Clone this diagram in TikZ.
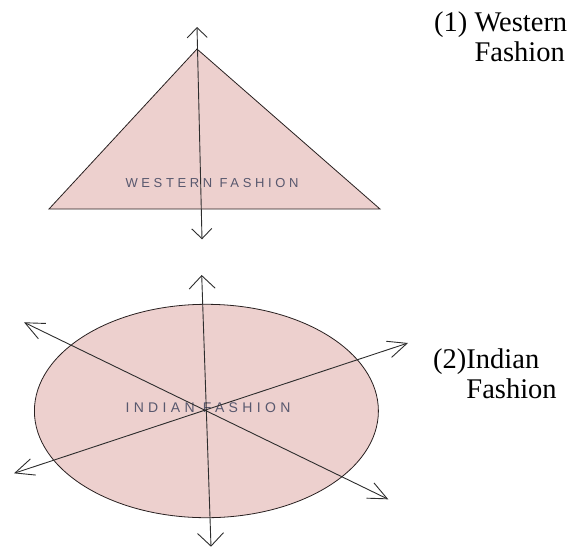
\documentclass[tikz,border=0pt]{standalone}
\usepackage{fontspec}
\setmainfont{Liberation Serif}
\newfontfamily\labelserif{Liberation Serif}
\newfontfamily\spacedsans[LetterSpace=28]{Liberation Sans}
\newfontfamily\widesans[LetterSpace=31]{Liberation Sans}
\usetikzlibrary{arrows.meta,shapes.geometric}
\definecolor{shapefill}{RGB}{237,208,206}
\definecolor{shapeline}{RGB}{40,32,32}
\definecolor{arrowline}{RGB}{45,45,45}
\definecolor{inlabel}{RGB}{88,88,110}
\tikzset{
  shapebody/.style={fill=shapefill, draw=shapeline, line width=0.8pt},
  axis/.style={draw=arrowline, line width=0.9pt},
  inner label/.style={font=\spacedsans\fontsize{13}{15}\selectfont, text=inlabel, inner sep=0pt},
  wide label/.style={font=\widesans\fontsize{14}{16}\selectfont, text=inlabel, inner sep=0pt},
  side label/.style={font=\labelserif\fontsize{28.5}{29.5}\selectfont, align=left, inner sep=0pt},
  headA/.style={{Straight Barb[length=10pt 0 0, width=20pt 0 0]}-{Straight Barb[length=10pt 0 0, width=20pt 0 0]}},
  headB/.style={{Straight Barb[length=13pt 0 0, width=26pt 0 0]}-{Straight Barb[length=13pt 0 0, width=26pt 0 0]}},
  headC/.style={{Straight Barb[length=19pt 0 0, width=17pt 0 0]}-{Straight Barb[length=19pt 0 0, width=17pt 0 0]}},
}
\begin{document}
\begin{tikzpicture}[x=1pt,y=-1pt]
\useasboundingbox (0,0) rectangle (573,550);
% triangle
\coordinate (apex) at (197,49);
\coordinate (bl) at (49,209);
\coordinate (br) at (380,209);
\path[shapebody] (apex) -- (br) -- (bl) -- cycle;
\node[inner label, anchor=base] (wf) at (212,187.3) {WESTERN FASHION};
\coordinate (t1) at (197,27);
\coordinate (t2) at (202,239.3);
\draw[axis, headA] (t1) -- (t2);
\node[side label, anchor=base west] (l1) at (434,61) {(1) Western\\\phantom{(1) }Fashion};
% ellipse
\node[shapebody, ellipse, minimum width=344pt, minimum height=213.4pt, inner sep=0pt] (ell) at (206.4,411) {};
\node[wide label, anchor=base] (inf) at (208,412.7) {INDIAN FASHION};
\coordinate (v1) at (201.7,275);
\coordinate (v2) at (211,546.7);
\coordinate (d1a) at (24,322.3);
\coordinate (d1b) at (388.3,499.3);
\coordinate (d2a) at (14,473.3);
\coordinate (d2b) at (408,343);
\draw[axis, headB] (v1) -- (v2);
\draw[axis, headC] (d1a) -- (d1b);
\draw[axis, headC] (d2a) -- (d2b);
\node[side label, anchor=base west] (l2) at (433,398) {(2)Indian\\\phantom{(2)}Fashion};
\end{tikzpicture}
\end{document}
